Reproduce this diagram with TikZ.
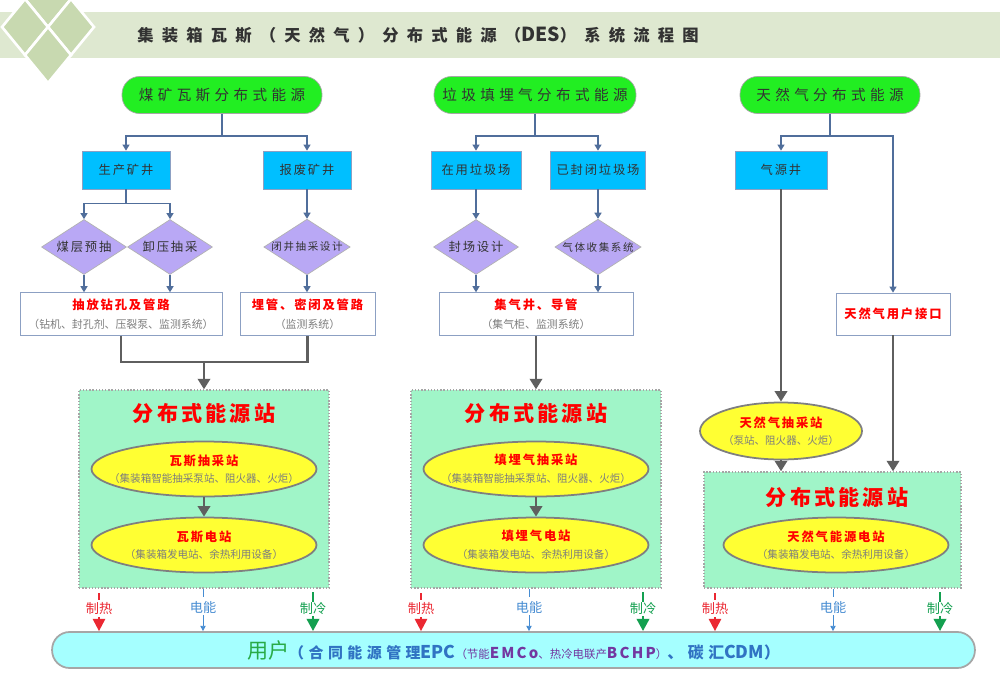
\documentclass[tikz,border=0pt]{standalone}
\usepackage{fontspec}
\setmainfont{Noto Sans CJK SC}
\newfontfamily\fsp[LetterSpace=15]{Noto Sans CJK SC}
\newfontfamily\wide[LetterSpace=30]{Noto Sans CJK SC}
\newfontfamily\wider[LetterSpace=50]{Noto Sans CJK SC}
\usepackage{xcolor}
\usetikzlibrary{arrows.meta, positioning, calc, shapes.geometric}

\definecolor{bandgreen}{RGB}{222,232,208}
\definecolor{sage}{RGB}{200,217,176}
\definecolor{srcgreen}{RGB}{34,238,34}
\definecolor{wellblue}{RGB}{0,191,255}
\definecolor{lilac}{RGB}{185,168,245}
\definecolor{linkblue}{RGB}{80,110,155}
\definecolor{framegray}{RGB}{140,160,195}
\definecolor{mint}{RGB}{160,245,200}
\definecolor{ovalyellow}{RGB}{255,255,51}
\definecolor{pipegray}{RGB}{95,95,95}
\definecolor{subgray}{RGB}{125,125,125}
\definecolor{titlegray}{RGB}{50,50,50}
\definecolor{usercyan}{RGB}{165,255,255}
\definecolor{usergreen}{RGB}{40,170,70}
\definecolor{userblue}{RGB}{48,115,195}
\definecolor{epcpurple}{RGB}{115,55,160}
\definecolor{heatred}{RGB}{235,40,50}
\definecolor{powerblue}{RGB}{70,140,210}
\definecolor{coolgreen}{RGB}{20,160,80}

\newcommand{\kt}[1]{{\color{red}\fsp\bfseries\fontsize{7pt}{8pt}\selectfont #1}}
\newcommand{\lat}{\fsp\bfseries\fontsize{8.5pt}{8pt}\selectfont}
\newcommand{\caps}{\rmfamily\bfseries\fontsize{10pt}{9pt}\selectfont}

\begin{document}
\begin{tikzpicture}[x=0.02cm, y=-0.02cm,
    src/.style={draw=gray!70, fill=srcgreen, rounded corners=10pt, minimum height=0.74cm, text=titlegray, font=\wide\fontsize{8.3pt}{9pt}\selectfont},
    well/.style={draw=framegray, fill=wellblue, minimum width=1.76cm, minimum height=0.76cm, text=titlegray, font=\fsp\fontsize{7pt}{8pt}\selectfont},
    choice/.style={diamond, draw=gray!60, fill=lilac, aspect=1.55, minimum width=1.7cm, minimum height=1.1cm, inner sep=0pt, text=titlegray, font=\fsp\fontsize{7pt}{8pt}\selectfont},
    kit/.style={draw=framegray, fill=white, minimum height=0.84cm, align=center, text=subgray, font=\fontsize{6.2pt}{11pt}\selectfont},
    plant/.style={draw=gray!70, densely dotted, line width=0.8pt, fill=mint, minimum width=5cm},
    planttitle/.style={text=red, font=\fsp\bfseries\fontsize{12pt}{13pt}\selectfont},
    oval/.style={ellipse, draw=pipegray!80, line width=1pt, fill=ovalyellow, minimum width=4.5cm, minimum height=1.1cm},
    ovaltext/.style={align=center, text=subgray, font=\fontsize{6pt}{10pt}\selectfont},
    link/.style={draw=linkblue, line width=0.8pt, -{Triangle[width=4pt,length=3.5pt]}},
    pipe/.style={draw=pipegray, line width=1.6pt},
    feed/.style={pipe, -{Triangle[width=7pt,length=6pt]}},
    outlbl/.style={inner sep=1pt, font=\fontsize{7.5pt}{8pt}\selectfont},
  ]
  \fill[white] (0,0) rectangle (1000,686);
  \useasboundingbox (0,0) rectangle (1000,686);
  \fill[bandgreen] (0,12) rectangle (1000,58);
  \foreach \cx/\cy in {48/-1, 25/27, 71/27, 48/55}
    \draw[white, line width=1.5pt, fill=sage] (\cx-23,\cy) -- (\cx,\cy-28) -- (\cx+23,\cy) -- (\cx,\cy+28) -- cycle;
  \node[text=titlegray, font=\wider\bfseries\fontsize{9.3pt}{10pt}\selectfont] (title) at (418,35) {集装箱瓦斯（天然气）分布式能源（{\rmfamily\fontsize{11pt}{10pt}\selectfont DES}）系统流程图};

  \node[src, minimum width=4cm] (g1) at (222,95) {煤矿瓦斯分布式能源};
  \node[src, minimum width=4.04cm] (g2) at (535,95) {垃圾填埋气分布式能源};
  \node[src, minimum width=3.6cm] (g3) at (830,95) {天然气分布式能源};

  \node[well] (b1) at (126,170) {生产矿井};
  \node[well] (b2) at (307,170) {报废矿井};
  \node[well, minimum width=1.8cm] (b3) at (476,170) {在用垃圾场};
  \node[well, minimum width=1.84cm] (b4) at (598,170) {已封闭垃圾场};
  \node[well, minimum width=1.84cm] (b5) at (781,170) {气源井};

  \node[choice] (d1) at (84,247) {煤层预抽};
  \node[choice] (d2) at (170,247) {卸压抽采};
  \node[choice, font=\fsp\fontsize{6pt}{7pt}\selectfont] (d3) at (307,247) {闭井抽采设计};
  \node[choice] (d4) at (476,247) {封场设计};
  \node[choice, font=\fsp\fontsize{6pt}{7pt}\selectfont] (d5) at (598,247) {气体收集系统};

  \node[kit, minimum width=4.04cm] (w1) at (121,314) {\kt{抽放钻孔及管路}\\（钻机、封孔剂、压裂泵、监测系统）};
  \node[kit, minimum width=2.7cm] (w2) at (307.5,314) {\kt{埋管、密闭及管路}\\（监测系统）};
  \node[kit, minimum width=3.88cm] (w3) at (536,314) {\kt{集气井、导管}\\（集气柜、监测系统）};
  \node[kit, minimum width=2.28cm] (w4) at (893,314) {\kt{天然气用户接口}};

  \node[plant, minimum height=3.96cm] (s1) at (204,489) {};
  \node[plant, minimum height=3.96cm] (s2) at (536,489) {};
  \node[plant, minimum width=5.14cm, minimum height=2.32cm] (s3) at (832.5,530) {};
  \node[planttitle] (s1t) at (204,413) {分布式能源站};
  \node[planttitle] (s2t) at (536,413) {分布式能源站};
  \node[planttitle] (s3t) at (837,497) {分布式能源站};

  \node[oval] (e1) at (204,469) {};
  \node[ovaltext] (e1t) at (e1) {\kt{瓦斯抽采站}\\（集装箱智能抽采泵站、阻火器、火炬）};
  \node[oval] (e2) at (204,545) {};
  \node[ovaltext] (e2t) at (e2) {\kt{瓦斯电站}\\（集装箱发电站、余热利用设备）};
  \node[oval] (e3) at (536,469) {};
  \node[ovaltext] (e3t) at (e3) {\kt{填埋气抽采站}\\（集装箱智能抽采泵站、阻火器、火炬）};
  \node[oval] (e4) at (536,545) {};
  \node[ovaltext] (e4t) at (e4) {\kt{填埋气电站}\\（集装箱发电站、余热利用设备）};
  \node[oval, minimum width=3.24cm, minimum height=1.14cm] (e5) at (781,431) {};
  \node[ovaltext] (e5t) at (e5) {\kt{天然气抽采站}\\（泵站、阻火器、火炬）};
  \node[oval] (e6) at (836,545) {};
  \node[ovaltext] (e6t) at (e6) {\kt{天然气能源电站}\\（集装箱发电站、余热利用设备）};

  \draw[link] (g1.south) -- ++(0,22) coordinate (g1j) -| (b1.north);
  \draw[link] (g1j) -| (b2.north);
  \draw[link] (b1.south) -- ++(0,14) coordinate (b1j) -| (d1.north);
  \draw[link] (b1j) -| (d2.north);
  \draw[link] (b2) -- (d3);
  \draw[link] (d1.south) -- (d1.south |- w1.north);
  \draw[link] (d2.south) -- (d2.south |- w1.north);
  \draw[link] (d3.south) -- (d3.south |- w2.north);
  \draw[link] (g2.south) -- ++(0,22) coordinate (g2j) -| (b3.north);
  \draw[link] (g2j) -| (b4.north);
  \draw[link] (b3) -- (d4);
  \draw[link] (b4) -- (d5);
  \draw[link] (d4.south) -- (d4.south |- w3.north);
  \draw[link] (d5.south) -- (d5.south |- w3.north);
  \draw[link] (g3.south) -- ++(0,22) coordinate (g3j) -| (b5.north);
  \draw[link] (g3j) -| (w4.north);

  \coordinate (m1) at (204,362);
  \draw[pipe] (w1.south) |- (m1) -| (w2.south);
  \draw[feed] (m1) -- (s1.north);
  \draw[feed] (w3.south) -- (s2.north);
  \draw[feed] (b5.south) -- (e5.north);
  \draw[feed] (e5.south) -- (e5.south |- s3.north);
  \draw[feed] (w4.south) -- (w4.south |- s3.north);
  \draw[feed] (e1.south) -- (e2.north);
  \draw[feed] (e3.south) -- (e4.north);

  \node[draw=gray!70, line width=1pt, fill=usercyan, rounded corners=10pt, minimum width=18.46cm, minimum height=0.72cm] (user) at (513.5,650) {{\color{usergreen}\fontsize{12pt}{12pt}\selectfont 用户}{\wide\bfseries\color{userblue}\fontsize{8.5pt}{9pt}\selectfont （合同能源管理{\caps EPC}}{\color{epcpurple}\fontsize{6.5pt}{7pt}\selectfont （节能{\lat EMCo}、热冷电联产{\lat BCHP}）}{\wide\bfseries\color{userblue}\fontsize{9pt}{9pt}\selectfont 、碳汇{\caps CDM}）}};

  \foreach \st/\xr/\xb/\xg in {1/99/203/313, 2/421/529/643, 3/715/833/940} {
    \node[outlbl, text=heatred] (h\st) at (\xr,609) {制热};
    \node[outlbl, text=powerblue] (p\st) at (\xb,607) {电能};
    \node[outlbl, text=coolgreen] (c\st) at (\xg,608) {制冷};
    \draw[heatred, line width=1.2pt] (h\st.north) ++(0,-1) -- ++(0,-7);
    \draw[powerblue, line width=0.5pt] (p\st.north) ++(0,-2) -- (p\st.north |- s\st.south);
    \draw[coolgreen, line width=1.6pt] (c\st.north) ++(0,2) -- ++(0,-10);
    \draw[heatred, line width=1.2pt, -{Triangle[width=7pt,length=7pt]}] (h\st.south) -- (h\st.south |- user.north);
    \draw[powerblue, line width=0.5pt, -{Triangle[width=3pt,length=3pt]}] (p\st.south) -- (p\st.south |- user.north);
    \draw[coolgreen, line width=1.6pt, -{Triangle[width=7pt,length=7pt]}] (c\st.south) -- (c\st.south |- user.north);
  }
\end{tikzpicture}
\end{document}
